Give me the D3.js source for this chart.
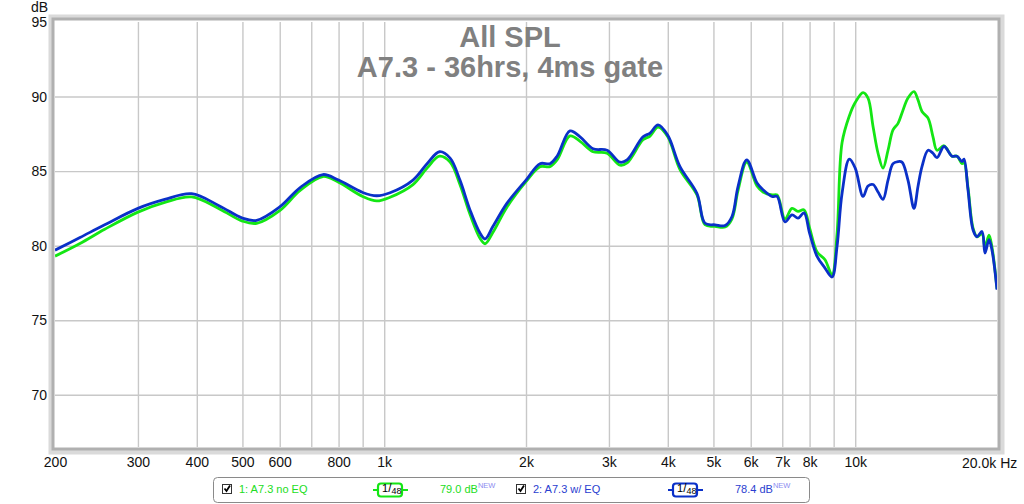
<!DOCTYPE html>
<html><head><meta charset="utf-8">
<script src="https://cdn.jsdelivr.net/npm/d3@7/dist/d3.min.js"></script>
<style>
html,body{margin:0;padding:0;background:#fff;}
svg{display:block;font-family:"Liberation Sans",Arial,sans-serif;}
</style></head>
<body>
<svg id="c" width="1024" height="504"></svg>
<script>
// ---- data ----
const freqs = [200,226,255,300,342,390,448,500,536,600,663,741,800,900,964,1029,1151,1233,1310,1380,1448,1521,1597,1637,1702,1823,2000,2142,2248,2328,2480,2605,2776,2972,3167,3278,3544,3668,3814,4000,4246,4614,4799,5039,5292,5475,5639,5884,6188,6372,6658,6825,7094,7342,7561,7786,8000,8293,8627,8928,9150,9376,9716,10000,10390,10647,10910,11180,11456,11740,12030,12328,12570,12942,13328,13592,13860,14278,14626,14916,15438,16056,16454,16854,17022,17356,17784,18136,18588,18860,19232,19516,20000];
const noEQ = [79.3,80.15,81.1,82.25,82.9,83.27,82.45,81.65,81.5,82.35,83.7,84.64,84.25,83.3,83.0,83.25,84.1,85.2,86.0,85.6,84.1,82.1,80.5,80.13,80.9,82.6,84.3,85.3,85.3,85.75,87.36,87.0,86.3,86.2,85.4,85.55,87.1,87.35,87.95,87.3,85.1,83.4,81.4,81.3,81.25,81.8,83.7,85.6,84.0,83.6,83.4,83.4,81.8,82.5,82.3,82.4,81.2,79.6,79.06,78.05,80.8,86.9,88.7,89.6,90.27,89.9,88.0,86.2,85.2,86.4,87.77,88.2,88.9,89.9,90.33,89.78,89.0,88.55,87.3,86.4,86.7,86.0,86.0,85.5,85.6,83.9,81.2,80.6,80.8,79.9,80.7,79.9,77.1];
const withEQ = [79.7,80.55,81.4,82.5,83.1,83.49,82.65,81.85,81.7,82.6,83.9,84.77,84.4,83.57,83.35,83.55,84.4,85.5,86.3,85.87,84.4,82.4,80.85,80.45,81.3,82.85,84.4,85.5,85.5,86.0,87.7,87.3,86.5,86.4,85.6,85.75,87.3,87.55,88.1,87.4,85.3,83.5,81.5,81.4,81.35,81.96,83.97,85.76,84.2,83.75,83.3,83.3,81.6,82.07,81.85,82.2,80.85,79.3,78.5,77.9,79.95,83.5,85.8,85.2,83.3,84.0,84.1,83.6,83.1,84.4,85.5,85.64,85.6,84.4,82.5,83.97,85.3,86.4,86.2,85.9,86.65,86.0,86.0,85.64,85.8,83.75,81.07,80.6,80.95,79.5,80.4,79.7,77.05];
const gridFreqs = [300,400,500,600,700,800,900,1000,2000,3000,4000,5000,6000,7000,8000,9000,10000];
const xTickFreqs = [200,300,400,500,600,800,1000,2000,3000,4000,5000,6000,7000,8000,10000];
const xTickLabels = ["200","300","400","500","600","800","1k","2k","3k","4k","5k","6k","7k","8k","10k"];
const yTicks = [95,90,85,80,75,70];
const titleLines = ["All SPL","A7.3 - 36hrs, 4ms gate"];
const seriesNames = ["1: A7.3 no EQ","2: A7.3 w/ EQ"];
const seriesLevels = ["79.0 dB","78.4 dB"];

// ---- layout ----
const L=55,R=997,T=22,B=447;
const svg=d3.select("#c");
const x=d3.scaleLog().domain([200,20000]).range([L,R]);
const y=d3.scaleLinear().domain([95,66.5]).range([T,B]);

// frame shading
svg.append("rect").attr("x",L-3).attr("y",T-4).attr("width",R-L+7).attr("height",B-T+8)
  .attr("fill","none").attr("stroke","#dadada").attr("stroke-width",7);
svg.append("rect").attr("x",L-2).attr("y",T-3).attr("width",R-L+4).attr("height",B-T+5)
  .attr("fill","#fff").attr("stroke","#b0b0b0").attr("stroke-width",3);

// grid
const gx=svg.append("g").attr("transform",`translate(0,${B})`)
  .call(d3.axisBottom(x).tickValues(gridFreqs).tickSize(-(B-T)).tickFormat(""));
gx.select(".domain").remove();
gx.selectAll("line").attr("stroke","#c8c8c8").attr("stroke-width",1.4);
const gy=svg.append("g").attr("transform",`translate(${L},0)`)
  .call(d3.axisLeft(y).tickValues(yTicks.slice(1)).tickSize(-(R-L)).tickFormat(""));
gy.select(".domain").remove();
gy.selectAll("line").attr("stroke","#c8c8c8").attr("stroke-width",1.4);

// axis labels
const ay=svg.append("g").attr("transform",`translate(${L},0)`)
  .call(d3.axisLeft(y).tickValues(yTicks).tickSize(0).tickPadding(8).tickFormat(d3.format("d")));
ay.select(".domain").remove();
ay.selectAll("text").attr("font-size",14).attr("fill","#111").attr("font-family","Liberation Sans, Arial");
const ax=svg.append("g").attr("transform",`translate(0,${B})`)
  .call(d3.axisBottom(x).tickValues(xTickFreqs).tickSize(0).tickPadding(10).tickFormat((d,i)=>xTickLabels[i]));
ax.select(".domain").remove();
ax.selectAll("text").attr("font-size",14).attr("fill","#111").attr("font-family","Liberation Sans, Arial");
svg.append("text").attr("x",962).attr("y",468).attr("font-size",14).attr("fill","#111").text("20.0k Hz");
svg.append("text").attr("x",31).attr("y",12).attr("font-size",14).attr("fill","#111").text("dB");

// title
svg.selectAll("text.title").data(titleLines).enter().append("text")
  .attr("class","title").attr("x",510).attr("y",(d,i)=>47+i*30)
  .attr("text-anchor","middle").attr("font-size",29).attr("font-weight","bold")
  .attr("fill","#808080").text(d=>d);

// curves
svg.append("clipPath").attr("id","clip").append("rect").attr("x",L).attr("y",T).attr("width",R-L).attr("height",B-T);
const line=d3.line().x(d=>x(d[0])).y(d=>y(d[1])).curve(d3.curveCatmullRom.alpha(0.5));
const colors=["#14e614","#0a30c8"];
[noEQ,withEQ].forEach((vals,i)=>{
  svg.append("path").datum(freqs.map((f,j)=>[f,vals[j]]))
    .attr("d",line).attr("fill","none").attr("stroke",colors[i]).attr("stroke-width",2.8)
    .attr("stroke-linejoin","round").attr("clip-path","url(#clip)");
});

// legend
const lg=svg.append("g");
lg.append("rect").attr("x",213.5).attr("y",477.5).attr("width",596).attr("height",25).attr("rx",4)
  .attr("fill","#fff").attr("stroke","#8a8a8a");
const txtCol=["#22dd22","#2a3ed0"];
const offs=[0,294];
seriesNames.forEach((name,i)=>{
  const o=offs[i];
  const g=lg.append("g").attr("transform",`translate(${o},0)`);
  g.append("rect").attr("x",222.5).attr("y",484.5).attr("width",9).attr("height",9).attr("fill","#fff").attr("stroke","#333");
  g.append("path").attr("d","M224.5,488.5 L226.5,491 L230,485.5").attr("fill","none").attr("stroke","#000").attr("stroke-width",1.8);
  g.append("text").attr("x",239).attr("y",493).attr("font-size",11).attr("fill",txtCol[i]).text(name);
  const bx=[378,673-o][i];
  g.append("line").attr("x1",bx-5).attr("x2",bx+30).attr("y1",490).attr("y2",490).attr("stroke",colors[i]).attr("stroke-width",2);
  g.append("rect").attr("x",bx).attr("y",483.5).attr("width",24).attr("height",13).attr("rx",3)
    .attr("fill","#fff").attr("stroke",colors[i]).attr("stroke-width",2.2);
  const t=g.append("text").attr("x",bx+4).attr("y",493).attr("fill","#000");
  t.append("tspan").attr("font-size",11).attr("dy",-1).text("1");
  t.append("tspan").attr("font-size",12).attr("dy",0).text("/");
  t.append("tspan").attr("font-size",9).attr("dy",2).text("48");
  const lt=g.append("text").attr("x",[440,735-o][i]).attr("y",493).attr("font-size",11).attr("fill",txtCol[i]);
  lt.append("tspan").text(seriesLevels[i]);
  lt.append("tspan").attr("font-size",7.5).attr("dy",-5).attr("fill","#8c8cf0").text("NEW");
});
</script>
</body></html>
